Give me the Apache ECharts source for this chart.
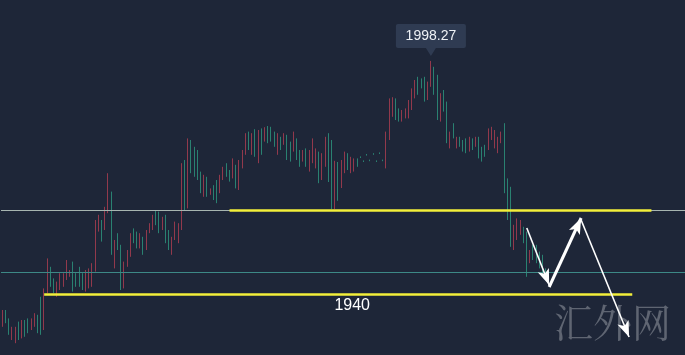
<!DOCTYPE html>
<html><head><meta charset="utf-8">
<script src="https://cdn.jsdelivr.net/npm/echarts@6/dist/echarts.min.js"></script>
<style>html,body{margin:0;padding:0;background:#1e2638;}#c{width:685px;height:355px;}</style>
</head><body><div id="c"></div>
<script>
// each candle: [direction (u = rise, d = fall), high, low]
const candles = [
['u',1936.0,1931.8],['d',1936.0,1932.7],['d',1933.9,1929.8],['u',1931.8,1928.5],['u',1931.8,1927.7],
['d',1933.1,1928.5],['u',1933.5,1928.9],['d',1933.5,1929.3],['d',1933.9,1930.2],['u',1933.9,1931.0],
['u',1935.2,1931.8],['d',1934.8,1930.2],['d',1939.3,1929.8],['u',1941.4,1931.0],['u',1948.9,1940.2],
['d',1946.8,1941.8],['d',1943.9,1940.2],['u',1943.1,1939.3],['u',1945.2,1941.0],['u',1945.2,1941.8],
['u',1948.5,1943.5],['u',1946.0,1944.3],['d',1948.1,1940.6],['d',1945.2,1941.8],['d',1946.8,1941.8],
['d',1945.2,1941.0],['u',1946.0,1940.6],['u',1946.4,1941.4],['u',1947.7,1941.8],['u',1958.5,1945.6],
['u',1959.8,1955.6],['d',1958.5,1953.1],['u',1961.8,1956.0],['u',1970.2,1960.2],['d',1965.6,1949.8],
['u',1953.5,1946.4],['d',1955.2,1951.0],['d',1952.3,1941.0],['u',1948.1,1941.4],['u',1951.0,1946.8],
['u',1955.2,1949.3],['d',1956.4,1952.7],['d',1955.6,1951.4],['u',1955.2,1951.4],['d',1954.3,1949.8],
['u',1956.0,1951.0],['u',1957.7,1955.2],['u',1959.8,1956.0],['d',1961.0,1957.2],['d',1960.6,1955.2],
['u',1959.3,1956.0],['d',1959.8,1952.7],['d',1956.0,1951.0],['u',1954.3,1949.8],['u',1958.1,1953.5],
['u',1957.7,1952.7],['u',1972.7,1956.0],['d',1973.5,1961.0],['u',1978.9,1961.4],['d',1978.5,1970.2],
['d',1976.8,1969.3],['d',1976.0,1968.5],['d',1970.6,1965.2],['u',1969.8,1964.3],['d',1969.3,1964.3],
['u',1966.4,1964.8],['d',1967.2,1963.5],['d',1968.5,1962.7],['u',1969.8,1965.2],['u',1971.8,1968.5],
['d',1972.7,1969.3],['d',1971.0,1968.1],['u',1973.9,1968.9],['d',1972.3,1966.4],['u',1973.5,1966.0],
['u',1976.0,1971.4],['u',1980.2,1974.8],['d',1980.6,1976.0],['u',1980.2,1974.8],['d',1981.2,1974.3],
['u',1981.0,1972.7],['d',1981.4,1974.8],['u',1981.7,1978.1],['d',1982.0,1977.7],['d',1981.8,1978.1],
['d',1980.6,1976.8],['u',1980.2,1974.8],['d',1979.3,1976.0],['u',1980.2,1977.3],['d',1979.8,1973.5],
['d',1978.1,1973.1],['u',1980.6,1975.6],['d',1978.9,1973.5],['d',1976.0,1971.8],['u',1976.0,1973.1],
['d',1976.4,1971.8],['u',1976.0,1970.6],['u',1978.9,1972.7],['u',1976.4,1971.4],['d',1975.6,1967.7],
['u',1975.2,1968.5],['u',1979.3,1971.8],['d',1980.2,1968.0],['d',1978.5,1961.2],['u',1973.3,1961.2],
['d',1973.0,1963.3],['u',1973.5,1966.5],['u',1975.6,1970.2],['d',1975.2,1971.0],['u',1974.3,1970.2],
['u',1973.9,1970.6],['d',1973.9,1971.8],['d',1974.4,1974.0],['d',1973.4,1973.0],['d',1975.0,1974.6],
['d',1973.6,1973.2],['d',1975.2,1974.8],['d',1973.4,1973.0],['d',1975.4,1975.0],['d',1973.6,1973.2],
['u',1980.6,1971.4],['u',1988.9,1978.5],['u',1989.2,1984.3],['d',1988.9,1983.5],['d',1986.4,1983.1],
['u',1986.0,1983.1],['u',1986.4,1983.9],['u',1988.5,1983.9],['u',1991.4,1986.0],['u',1993.5,1988.9],
['d',1994.3,1989.8],['d',1993.9,1991.4],['d',1994.3,1988.1],['u',1993.1,1988.5],['u',1998.27,1991.8],
['d',1996.8,1989.8],['d',1994.8,1983.5],['u',1990.2,1983.1],['d',1991.0,1985.6],['d',1988.1,1977.7],
['u',1980.6,1976.4],['d',1982.7,1978.9],['u',1979.3,1976.4],['d',1979.3,1976.8],['d',1978.5,1975.6],
['d',1978.9,1975.2],['u',1979.3,1975.6],['d',1978.9,1976.0],['u',1979.3,1976.8],['d',1979.3,1973.9],
['d',1976.8,1973.1],['d',1977.3,1974.3],['u',1981.4,1976.0],['u',1981.8,1978.5],['u',1981.0,1976.4],
['u',1979.3,1975.2],['u',1980.6,1977.7],['d',1982.7,1965.2],['d',1968.9,1958.5],['d',1966.8,1951.8],
['u',1957.3,1951.0],['u',1958.9,1953.5],['u',1958.5,1954.8],['d',1956.8,1952.7],['d',1955.6,1944.3],
['u',1951.0,1947.7],['d',1952.3,1948.5],['d',1952.3,1947.7],['d',1950.6,1946.4],['d',1949.8,1944.8],
['d',1946.4,1944.3]
];
const slotCount = 214;                 // candle slots incl. empty space on the right
const categories = Array.from({length: slotCount}, (_, i) => String(i));
const supportLevel = 1940;
const resistanceLevel = 1961;
const midLevel = 1945.5;
const supportSpan = ['13', '197'];
const resistanceSpan = ['71', '203'];
const arrowPaths = [
  [['164', 1956.5], ['171', 1942.25]],
  [['171', 1941.75], ['181', 1959.0]],
  [['181', 1958.5], ['196', 1929.25]]
];
const watermark = '汇外网';

const ohlc = candles.map(c => c[0] === 'u' ? [c[2], c[1], c[2], c[1]] : [c[1], c[2], c[2], c[1]]);

const RED = '#e0465b', GREEN = '#33bf98';
const arrowWidths = [1.6, 3, 1.6];

const chart = echarts.init(document.getElementById('c'), null, {renderer: 'canvas'});
chart.setOption({
  backgroundColor: '#1e2638',
  animation: false,
  grid: {left: 1, right: 0, top: 0, bottom: 0},
  xAxis: {type: 'category', data: categories, show: false, boundaryGap: true},
  yAxis: {type: 'value', min: 1924.75, max: 2013.5, show: false},
  graphic: [{
    type: 'text', left: 554, top: 303, silent: true,
    style: {text: watermark, fontSize: 39, fill: '#5f6572', fontFamily: '"Noto Serif CJK SC", "Noto Sans CJK SC", serif'}
  }],
  series: [{
    type: 'candlestick',
    data: ohlc,
    barWidth: 1,
    itemStyle: {color: RED, color0: GREEN, borderColor: RED, borderColor0: GREEN, borderWidth: 0.6},
    markPoint: {
      silent: true,
      symbol: 'path://M2,0H68Q70,0 70,2V22Q70,24 68,24H40L35,32L30,24H2Q0,24 0,22V2Q0,0 2,0Z',
      symbolSize: [70, 32],
      symbolOffset: [0, -21],
      itemStyle: {color: '#2f3b52'},
      label: {show: true, position: 'inside', offset: [0, -4], color: '#eef1f5', fontSize: 14,
              fontFamily: '"Liberation Sans", Arial, sans-serif', formatter: p => String(p.value)},
      data: [{type: 'max', valueDim: 'highest'}]
    },
    markLine: {
      silent: true,
      symbol: ['none', 'none'],
      label: {show: false},
      emphasis: {disabled: true},
      data: [
        {yAxis: resistanceLevel, lineStyle: {color: '#a7b5b0', width: 1, type: 'solid'}},
        {yAxis: midLevel, lineStyle: {color: '#3d8986', width: 1, type: 'solid'}},
        [{coord: [supportSpan[0], supportLevel], lineStyle: {color: '#f3ef3a', width: 2.5, type: 'solid'},
          label: {show: true, position: 'insideMiddleBottom', distance: 4, padding: [0, 0, 0, 28],
                  formatter: () => String(supportLevel), color: '#ffffff', fontSize: 16,
                  fontFamily: '"Liberation Sans", Arial, sans-serif'}},
         {coord: [supportSpan[1], supportLevel]}],
        [{coord: [resistanceSpan[0], resistanceLevel], lineStyle: {color: '#f3ef3a', width: 2.5, type: 'solid'}},
         {coord: [resistanceSpan[1], resistanceLevel]}],
        ...arrowPaths.map((p, i) => [
          {coord: p[0], symbol: 'none', lineStyle: {color: '#ffffff', width: arrowWidths[i], type: 'solid'}},
          {coord: p[1], symbol: 'arrow', symbolSize: [9, 16]}
        ])
      ]
    }
  }]
});
</script></body></html>
